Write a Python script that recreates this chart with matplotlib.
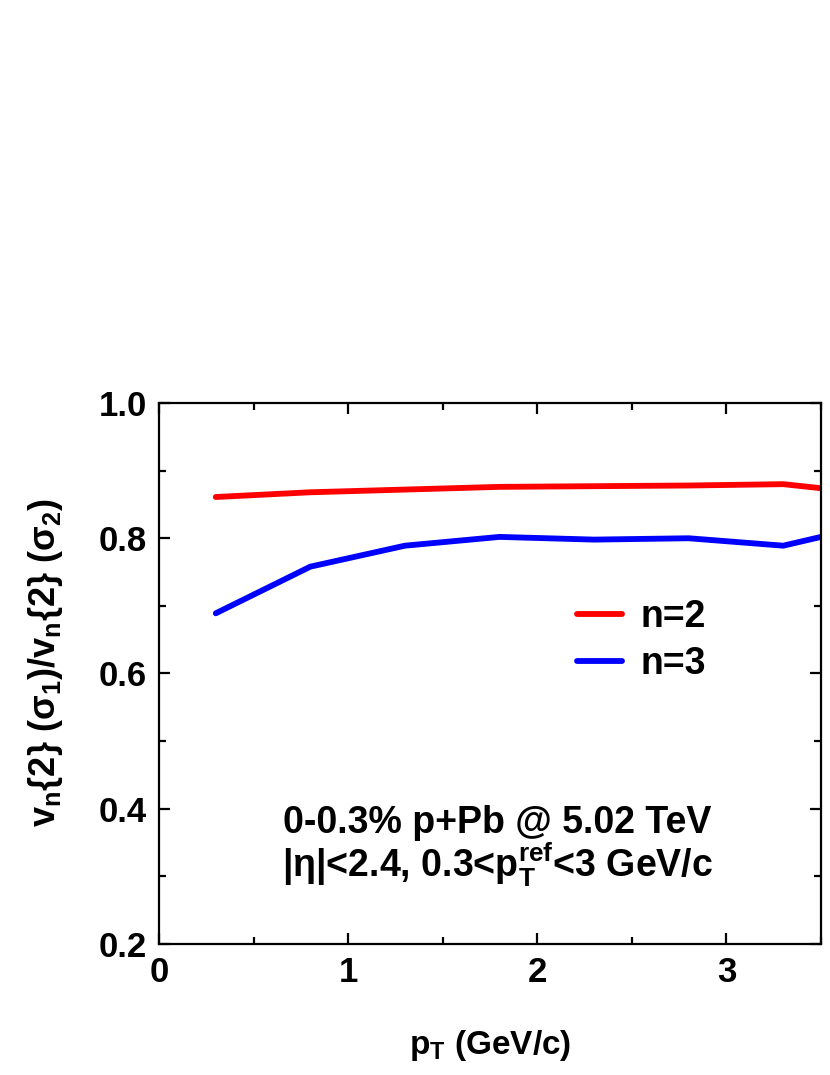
import matplotlib
matplotlib.use('Agg')
import matplotlib.pyplot as plt

plt.rcParams['font.family'] = ['Liberation Sans', 'DejaVu Sans']
plt.rcParams['font.weight'] = 'bold'
plt.rcParams['mathtext.fontset'] = 'custom'
plt.rcParams['mathtext.rm'] = 'Liberation Sans:bold'
plt.rcParams['mathtext.it'] = 'Liberation Sans:bold'
plt.rcParams['mathtext.bf'] = 'Liberation Sans:bold'

pt = [0.3, 0.8, 1.3, 1.8, 2.3, 2.8, 3.3, 3.5]
ratio_n2 = [0.861, 0.868, 0.872, 0.876, 0.877, 0.878, 0.880, 0.874]
ratio_n3 = [0.689, 0.758, 0.789, 0.802, 0.798, 0.800, 0.789, 0.802]
xticks = [0, 1, 2, 3]
yticks = [0.2, 0.4, 0.6, 0.8, 1.0]

fig = plt.figure(figsize=(8.3, 10.75), dpi=100)
ax = fig.add_axes([0.1916, 0.1219, 0.7976, 0.5032])

ax.plot(pt, ratio_n2, color='#ff0000', lw=4.2, label='n=2', solid_capstyle='round')
ax.plot(pt, ratio_n3, color='#0000ff', lw=4.2, label='n=3', solid_capstyle='round')

ax.set_xlim(0, 3.5)
ax.set_ylim(0.2, 1.0)
ax.set_xticks(xticks)
ax.set_xticks([0.5, 1.5, 2.5, 3.5], minor=True)
ax.set_yticks(yticks)
ax.set_yticks([0.3, 0.5, 0.7, 0.9], minor=True)
ax.set_xticklabels([str(v) for v in xticks], fontweight='bold')
ax.set_yticklabels(['%.1f' % v for v in yticks], fontweight='bold')
ax.tick_params(which='both', direction='in', top=True, right=True, width=1.6, labelsize=25, pad=9)
ax.tick_params(which='major', length=8)
ax.tick_params(which='minor', length=5)
for s in ax.spines.values():
    s.set_linewidth(1.6)

ax.set_xlabel(r'p$_\mathrm{T}$ (GeV/c)', fontsize=24, fontweight='bold', labelpad=28)
ax.set_ylabel(r'v$_n${2} (σ$_1$)/v$_n${2} (σ$_2$)', fontsize=26, fontweight='bold')
ax.yaxis.set_label_coords(-0.142, 0.521)

ax.legend(loc='upper left', bbox_to_anchor=(0.58, 0.70), frameon=False, fontsize=27,
          handlelength=1.2, handletextpad=0.5, labelspacing=0.3)

ax.text(0.511, 0.224, '0-0.3% p+Pb @ 5.02 TeV', transform=ax.transAxes,
        ha='center', va='center', fontsize=27, fontweight='bold')
ax.text(0.511, 0.146, r'|η|<2.4, 0.3<p$_\mathrm{T}^\mathrm{ref}$<3 GeV/c', transform=ax.transAxes,
        ha='center', va='center', fontsize=27, fontweight='bold')

fig.savefig('out.png', dpi=100)
